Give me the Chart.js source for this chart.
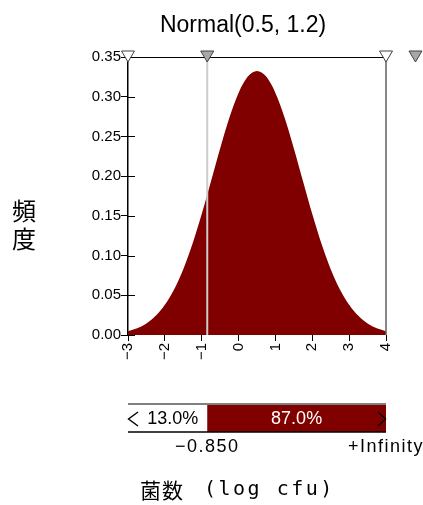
<!DOCTYPE html>
<html>
<head>
<meta charset="utf-8">
<script src="https://cdn.jsdelivr.net/npm/chart.js@4.4.1/dist/chart.umd.min.js"></script>
<style>
  html, body { margin: 0; padding: 0; background: #fff; }
  #wrap { width: 423px; height: 505px; }
</style>
</head>
<body>
<div id="wrap"><canvas id="chart"></canvas></div>
<script>
// values (density of the fitted curve)
const xValues = [-3, -2.75, -2.5, -2.25, -2, -1.75, -1.5, -1.25, -1, -0.75, -0.5, -0.25, 0, 0.25,
  0.5, 0.75, 1, 1.25, 1.5, 1.75, 2, 2.25, 2.5, 2.75, 3, 3.25, 3.5, 3.75, 4];
const density = [0.0047, 0.0085, 0.0146, 0.0241, 0.0380, 0.0573, 0.0829, 0.1148, 0.1522, 0.1932,
  0.2349, 0.2735, 0.3048, 0.3253, 0.3325, 0.3253, 0.3048, 0.2735, 0.2349, 0.1932, 0.1522, 0.1148,
  0.0829, 0.0573, 0.0380, 0.0241, 0.0146, 0.0085, 0.0047];

const chartTitle = "Normal(0.5, 1.2)";
const xTitleCjk = "菌数";
const xTitleUnit = "(log cfu)";
const yTitle = ["頻", "度"];

const cutoff = -0.85;
const markerValues = [-3, -0.85, 4, 4.8];
const markerShaded = [false, true, false, true];
const barPercents = ["13.0%", "87.0%"];
const barLabels = ["\u22120.850", "+Infinity"];

const FILL = "#800000";

function triangle(ctx, x, top, shaded) {
  ctx.beginPath();
  ctx.moveTo(x - 6.5, top);
  ctx.lineTo(x + 6.5, top);
  ctx.lineTo(x, top + 11);
  ctx.closePath();
  ctx.fillStyle = shaded ? "#a8a8a8" : "#ffffff";
  ctx.fill();
  ctx.strokeStyle = "#404040";
  ctx.lineWidth = 1;
  ctx.stroke();
}

function chevron(ctx, tipX, backX, midY, color) {
  ctx.strokeStyle = color;
  ctx.lineWidth = 1.4;
  ctx.beginPath();
  ctx.moveTo(backX, midY - 7);
  ctx.lineTo(tipX, midY);
  ctx.lineTo(backX, midY + 7);
  ctx.stroke();
}

const decorations = {
  id: "decorations",
  beforeDatasetsDraw(chart) {
    // y ticks also poke into the plot a little
    const { ctx, scales: { y } } = chart;
    ctx.save();
    ctx.strokeStyle = "#000";
    ctx.lineWidth = 1;
    y.ticks.forEach((t) => {
      const py = Math.round(y.getPixelForValue(t.value)) + 0.5;
      ctx.beginPath();
      ctx.moveTo(y.right, py);
      ctx.lineTo(y.right + 7, py);
      ctx.stroke();
    });
    ctx.restore();
  },
  afterDatasetsDraw(chart) {
    const { ctx, chartArea: a, scales: { x } } = chart;
    ctx.save();

    // frame: top line, right edge
    ctx.lineWidth = 1;
    ctx.strokeStyle = "#000";
    ctx.beginPath();
    ctx.moveTo(a.left, a.top + 0.5);
    ctx.lineTo(a.right, a.top + 0.5);
    ctx.stroke();
    ctx.strokeStyle = "#606060";
    ctx.lineWidth = 1.5;
    ctx.beginPath();
    ctx.moveTo(a.right, a.top);
    ctx.lineTo(a.right, a.bottom);
    ctx.stroke();

    // cutoff line
    const cx = x.getPixelForValue(cutoff);
    ctx.strokeStyle = "#cccccc";
    ctx.lineWidth = 2;
    ctx.beginPath();
    ctx.moveTo(cx, a.top);
    ctx.lineTo(cx, a.bottom);
    ctx.stroke();

    // markers above the plot
    markerValues.forEach((v, i) => {
      triangle(ctx, x.getPixelForValue(v), a.top - 6, markerShaded[i]);
    });

    // title
    ctx.fillStyle = "#000";
    ctx.textAlign = "center";
    ctx.textBaseline = "alphabetic";
    ctx.font = "23px 'Liberation Sans', Arial, sans-serif";
    ctx.fillText(chartTitle, (a.left + a.right) / 2 - 14, 32);

    // y title, one character per line
    ctx.font = "24px 'Noto Sans CJK JP', sans-serif";
    ctx.textBaseline = "middle";
    yTitle.forEach((ch, i) => ctx.fillText(ch, 24, 211 + i * 28));

    // x title
    ctx.textAlign = "left";
    ctx.font = "21px 'Noto Sans CJK JP', sans-serif";
    ctx.letterSpacing = "1px";
    ctx.fillText(xTitleCjk, 140, 490);
    ctx.font = "20px 'DejaVu Sans Mono', monospace";
    ctx.letterSpacing = "2.5px";
    ctx.fillText(xTitleUnit, 204, 490);
    ctx.letterSpacing = "0px";

    // split bar below the axis
    const barTop = 404, barBottom = 432;
    const x0 = x.getPixelForValue(x.min);
    const x1 = x.getPixelForValue(x.max);
    ctx.fillStyle = FILL;
    ctx.fillRect(cx, barTop, x1 - cx, barBottom - barTop);
    ctx.strokeStyle = "#808080";
    ctx.lineWidth = 2;
    ctx.beginPath();
    ctx.moveTo(x0, barTop);
    ctx.lineTo(x1, barTop);
    ctx.stroke();
    ctx.strokeStyle = "#000";
    ctx.lineWidth = 1.5;
    ctx.beginPath();
    ctx.moveTo(x0, barBottom);
    ctx.lineTo(x1, barBottom);
    ctx.stroke();

    const midY = (barTop + barBottom) / 2 + 1;
    chevron(ctx, x0 + 0.5, x0 + 10, midY, "#000");
    chevron(ctx, x1 - 0.5, x1 - 8, midY, "#000");

    ctx.font = "18px 'Liberation Sans', Arial, sans-serif";
    ctx.textBaseline = "middle";
    ctx.fillStyle = "#000";
    ctx.textAlign = "right";
    ctx.fillText(barPercents[0], cx - 9, midY);
    ctx.fillStyle = "#fff";
    ctx.textAlign = "center";
    ctx.fillText(barPercents[1], (cx + x1) / 2, midY);

    ctx.fillStyle = "#000";
    ctx.letterSpacing = "1.5px";
    ctx.fillText(barLabels[0], cx, 447);
    ctx.fillText(barLabels[1], x1, 447);
    ctx.letterSpacing = "0px";

    ctx.restore();
  },
};

new Chart(document.getElementById("chart"), {
  type: "line",
  data: {
    datasets: [{
      data: xValues.map((v, i) => ({ x: v, y: density[i] })),
      backgroundColor: FILL,
      borderWidth: 0,
      pointRadius: 0,
      fill: "origin",
      cubicInterpolationMode: "monotone",
    }],
  },
  options: {
    responsive: true,
    maintainAspectRatio: false,
    animation: false,
    layout: { padding: { top: 57, right: 37, left: 0, bottom: 0 } },
    plugins: { legend: { display: false }, tooltip: { enabled: false } },
    scales: {
      x: {
        type: "linear",
        min: -3,
        max: 4,
        afterFit: (s) => { s.height = 170; },
        border: { display: false },
        grid: { drawOnChartArea: false, tickLength: 6, color: "#000" },
        ticks: {
          stepSize: 1,
          autoSkip: false,
          maxRotation: 90,
          minRotation: 90,
          padding: 2,
          color: "#000",
          font: { size: 15, family: "'Liberation Sans', Arial, sans-serif" },
          callback: (v) => (v < 0 ? "\u2212" + Math.abs(v) : String(v)),
        },
      },
      y: {
        min: 0,
        max: 0.35,
        afterFit: (s) => { s.width = 128; },
        border: { display: true, color: "#000", width: 1.5 },
        grid: { drawOnChartArea: false, tickLength: 7, color: "#000" },
        ticks: {
          stepSize: 0.05,
          padding: 0,
          color: "#000",
          font: { size: 15, family: "'Liberation Sans', Arial, sans-serif" },
          callback: (v) => v.toFixed(2),
        },
      },
    },
  },
  plugins: [decorations],
});
</script>
</body>
</html>
